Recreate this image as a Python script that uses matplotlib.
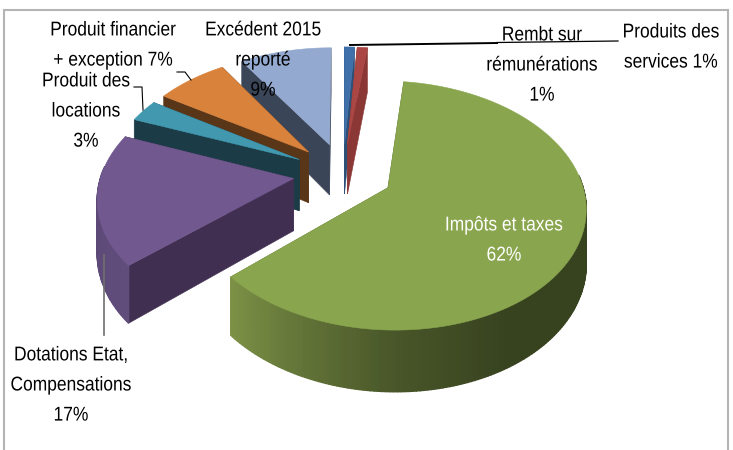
import numpy as np
import matplotlib
matplotlib.use("Agg")
import matplotlib.pyplot as plt
from matplotlib.patches import Polygon
from matplotlib.colors import to_rgb
from matplotlib.patheffects import AbstractPathEffect
from matplotlib.transforms import Affine2D

# data
categories = ["Produits des\nservices 1%", "Rembt sur\nrémunérations\n1%", "Impôts et taxes\n62%",
              "Dotations Etat,\nCompensations\n17%", "Produit des\nlocations\n3%",
              "Produit financier\n+ exception 7%", "Excédent 2015\nreporté\n9%"]
values = [1, 1, 61.5, 17.5, 3, 7, 9]

# styles
top_colors = ["#3f70a9", "#aa4643", "#89a54e", "#71588f", "#4198af", "#d9823c", "#93a9cf"]
edge_colors = ["#2d5078", "#8a3735", "#566b30", "#412f52", "#1b3c47", "#5a3618", "#3b4558"]
rim_light = ["#3f70a9", "#8a3735", "#7c9146", "#614d7c", "#1b3c47", "#5a3618", "#3b4558"]
rim_dark = ["#2d5078", "#8a3735", "#37421f", "#5a4674", "#1b3c47", "#5a3618", "#3b4558"]
label_xy = [(671, 47), (542, 65), (504, 240), (71, 385), (86, 111), (113, 45), (263, 60)]
label_colors = ["black", "black", "white", "black", "black", "black", "black"]
draw_order = [0, 1, 6, 5, 4, 3, 2]

# projection of the pie plane to the picture
CX, CY, B, A, K, DEPTH, EXPLODE = 343.0, 173.2, 192.0, 117.9, 0.14, 52.0, 0.26


def project(U, V, down=0.0):
    w = 1 + K * V
    return CX + B * U / w, CY - A * V / w + down * DEPTH / w


class Squeeze(AbstractPathEffect):
    """Narrow a text horizontally around its centre, the label stays real text."""

    def __init__(self, cx, sx):
        super().__init__()
        self.cx, self.sx = cx, sx

    def draw_path(self, renderer, gc, tpath, affine, rgbFace=None):
        aff = affine + Affine2D().translate(-self.cx, 0).scale(self.sx, 1).translate(self.cx, 0)
        renderer.draw_path(gc, tpath, aff, rgbFace)


plt.rcParams['font.family'] = ['Liberation Sans', 'DejaVu Sans']
fig = plt.figure(figsize=(7.33, 4.5), dpi=100)
ax = fig.add_axes([0, 0, 1, 1])
ax.set_xlim(0, 733)
ax.set_ylim(450, 0)
ax.axis("off")

# frame
ax.plot([3.5, 3.5, 728, 728], [450, 9.5, 9.5, 450], color="#b4b4b4", lw=1.5, solid_joinstyle="miter")

shares = np.array(values, float) / sum(values) * 2 * np.pi
ends = np.cumsum(shares)
starts = ends - shares


def add(poly_x, poly_y, color, z, lw=0.4):
    ax.add_patch(Polygon(np.column_stack([poly_x, poly_y]), closed=True, facecolor=color,
                         edgecolor=color, lw=lw, zorder=z))


for rank, i in enumerate(draw_order):
    th = np.linspace(starts[i], ends[i], max(8, int(shares[i] * 60)))
    mid = (starts[i] + ends[i]) / 2
    ou, ov = EXPLODE * np.sin(mid), EXPLODE * np.cos(mid)
    U = ou + np.sin(th)
    V = ov + np.cos(th)
    z = 2 + rank
    # radial cut faces
    for k in (0, -1):
        ax0, ay0 = project(ou, ov)
        ax1, ay1 = project(ou, ov, 1)
        bx1, by1 = project(U[k], V[k], 1)
        bx0, by0 = project(U[k], V[k])
        add([ax0, ax1, bx1, bx0], [ay0, ay1, by1, by0], edge_colors[i], z)
    # outer rim with shading, front part only
    c0, c1 = np.array(to_rgb(rim_dark[i])), np.array(to_rgb(rim_light[i]))
    for a, b in zip(range(len(th) - 1), range(1, len(th))):
        angle = (th[a] + th[b]) / 2
        if np.cos(angle) > 0.1:
            continue
        xa, ya = project(U[a], V[a])
        xb, yb = project(U[b], V[b])
        xc, yc = project(U[b], V[b], 1)
        xd, yd = project(U[a], V[a], 1)
        deg = np.degrees(angle)
        if i == 2:
            t = np.interp(deg, [150, 180, 228], [0.0, 0.25, 1.0])
        else:
            t = np.interp(deg, [np.degrees(starts[i]), np.degrees(ends[i])], [1.0, 0.0])
        add([xa, xb, xc, xd], [ya, yb, yc, yd], tuple(c0 + (c1 - c0) * t), z, lw=1.0)
    # top face
    x, y = project(U, V)
    px, py = project(ou, ov)
    add(np.r_[px, x], np.r_[py, y], top_colors[i], z + 0.5)

# leader lines
ax.plot([177, 185, 191], [72, 72, 80], color="black", lw=0.8, zorder=20)
ax.plot([134, 142, 143], [87, 87, 110], color="black", lw=0.8, zorder=20)
ax.plot([104, 104], [255, 335], color="#707070", lw=1.2, zorder=20)
ax.plot([350, 497], [45, 43], color="black", lw=1.4, zorder=20)
ax.plot([497, 618], [42.5, 41], color="black", lw=0.9, zorder=20)

for name, (lx, ly), col in zip(categories, label_xy, label_colors):
    t = ax.text(lx, ly, name, ha="center", va="center", ma="center", fontsize=14.4, color=col,
                linespacing=1.74, zorder=30)
    t.set_path_effects([Squeeze(lx, 0.87)])

fig.savefig("out.png", dpi=100)
